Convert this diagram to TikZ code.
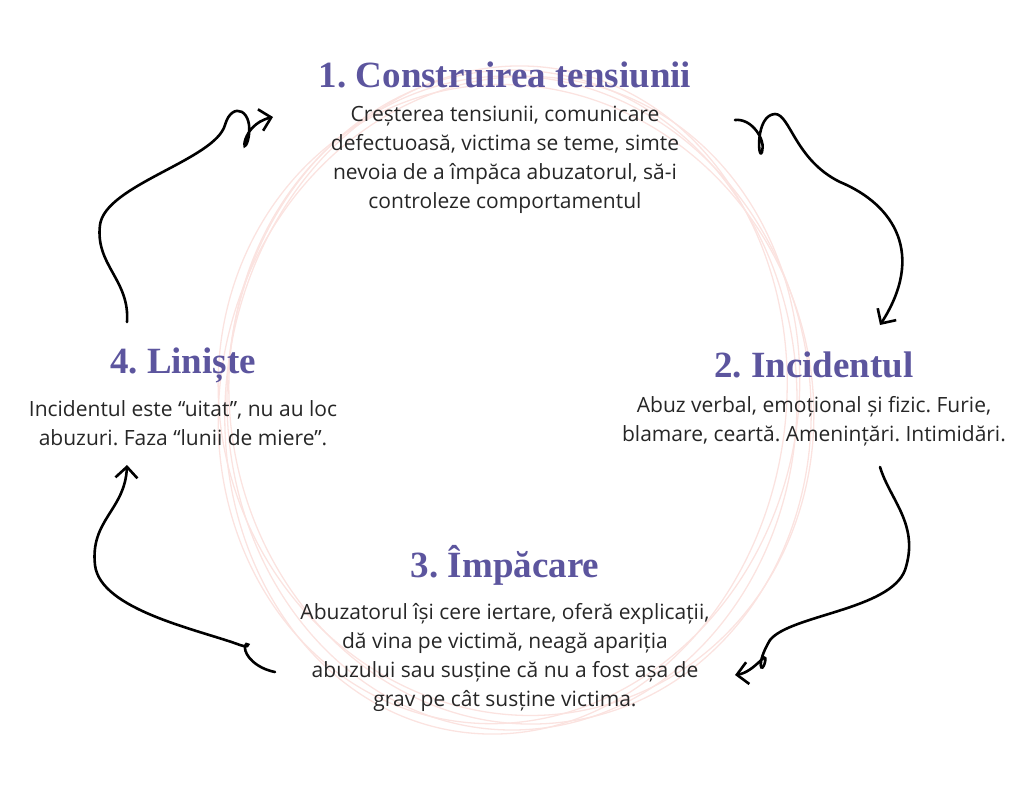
\documentclass[tikz,border=0pt]{standalone}
\usepackage{fontspec}
\setmainfont{Open Sans}
\newfontfamily\titlefont{Liberation Serif}
\frenchspacing
\usetikzlibrary{arrows.meta,positioning}
\definecolor{titlepurple}{HTML}{5C559E}
\definecolor{ringpink}{HTML}{FBE3E0}
\tikzset{handarrow/.style = {line width=2.6pt, line cap=round, -{Straight Barb[length=11pt,width=22pt,line width=2.6pt]}}}

\begin{document}
\begin{tikzpicture}[x=1pt, y=-1pt,
    phasetitle/.style = {font=\titlefont\bfseries\fontsize{37}{42}\selectfont, text=titlepurple},
    phasetext/.style = {font=\fontsize{21}{29}\selectfont, align=center, text=black!85}]
    \useasboundingbox (0,0) rectangle (1024,790);

    % faint rings behind
    \foreach \a/\rx/\ry/\dx in {0/285/330/0, 10/290/325/8, -8/280/335/-6, 20/295/318/4, -15/288/326/-3}
        \draw[ringpink, line width=1.3pt] (512+\dx,400) ellipse[x radius=\rx, y radius=\ry, rotate=\a];

    \node[phasetitle] (t1) at (505,75) {1. Construirea tensiunii};
    \node[phasetext, below=11pt of t1] (d1) {Creșterea tensiunii, comunicare\\defectuoasă, victima se teme, simte\\nevoia de a împăca abuzatorul, să-i\\controleze comportamentul};

    \node[phasetitle] (t2) at (814,365) {2. Incidentul};
    \node[phasetext, below=11pt of t2] (d2) {Abuz verbal, emoțional și fizic. Furie,\\blamare, ceartă. Amenințări. Intimidări.};

    \node[phasetitle] (t3) at (505,565) {3. Împăcare};
    \node[phasetext, below=11pt of t3] (d3) {Abuzatorul își cere iertare, oferă explicații,\\dă vina pe victimă, neagă apariția\\abuzului sau susține că nu a fost așa de\\grav pe cât susține victima.};

    \node[phasetitle] (t4) at (183,365) {4. Liniște};
    \node[phasetext, below=11pt of t4] (d4) {Incidentul este “uitat”, nu au loc\\abuzuri. Faza “lunii de miere”.};

    \coordinate (a1s) at (127,322);  \coordinate (a1e) at (273,117);
    \coordinate (a2s) at (735,120);  \coordinate (a2e) at (880,325);
    \coordinate (a3s) at (880,467);  \coordinate (a3e) at (735,675);
    \coordinate (a4s) at (275,672);  \coordinate (a4e) at (127,465);

    \draw[handarrow] (a1s) .. controls (130,280) and (95,265) .. (100,225)
        .. controls (105,185) and (215,160) .. (225,125)
        .. controls (232,100) and (255,110) .. (248,140)
        .. controls (242,160) and (240,125) .. (a1e);
    \draw[handarrow] (a2s) .. controls (752,118) and (766,140) .. (762,152)
        .. controls (758,162) and (755,115) .. (775,114)
        .. controls (790,114) and (795,160) .. (840,182)
        .. controls (895,205) and (925,255) .. (a2e);
    \draw[handarrow] (a3s) .. controls (890,500) and (920,525) .. (905,570)
        .. controls (890,610) and (790,615) .. (770,640)
        .. controls (755,665) and (762,675) .. (765,662)
        .. controls (768,648) and (755,672) .. (a3e);
    \draw[handarrow] (a4s) .. controls (255,668) and (245,655) .. (245,648)
        .. controls (245,638) and (255,650) .. (240,645)
        .. controls (200,630) and (100,610) .. (95,565)
        .. controls (90,520) and (125,510) .. (a4e);
\end{tikzpicture}
\end{document}
